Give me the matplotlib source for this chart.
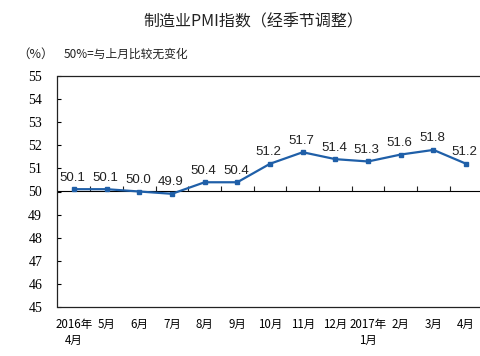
import matplotlib
matplotlib.use("Agg")
import matplotlib.pyplot as plt

months = ["2016年\n4月", "5月", "6月", "7月", "8月", "9月", "10月", "11月",
          "12月", "2017年\n1月", "2月", "3月", "4月"]
pmi = [50.1, 50.1, 50.0, 49.9, 50.4, 50.4, 51.2, 51.7, 51.4, 51.3, 51.6, 51.8, 51.2]
yticks = list(range(45, 56))

CJK = ["Noto Sans CJK SC", "DejaVu Sans"]
LINE = "#1f5fa8"

fig = plt.figure(figsize=(4.81, 3.56), dpi=100)
ax = fig.add_axes([57.5 / 481, 49 / 356, 425 / 481, 231 / 356])

x = list(range(len(months)))
ax.plot(x, pmi, color=LINE, linewidth=1.6, marker="s", markersize=3.2,
        zorder=3)
for xi, v in zip(x, pmi):
    ax.annotate(f"{v:.1f}", (xi, v), xytext=(-1, 4), textcoords="offset points",
                ha="center", va="bottom", fontsize=9.5,
                family="Liberation Sans", color="#222222")

ax.set_xlim(-0.5, len(months) - 0.5)
ax.set_ylim(45, 55)
ax.set_yticks(yticks)
ax.set_yticklabels([str(t) for t in yticks], family="Liberation Serif",
                   fontsize=10)
ax.tick_params(axis="y", direction="in", length=3, width=0.8, pad=11)
ax.set_xticks(x)
ax.set_xticklabels(months, family=CJK, fontsize=8.3, linespacing=1.25)
ax.tick_params(axis="x", length=0, pad=8)
for sp in ax.spines.values():
    sp.set_linewidth(0.9)
    sp.set_color("#222222")
ax.spines["right"].set_visible(False)

# axis line at 50 with ticks between months
mid = ax.secondary_xaxis(0.5)
mid.set_xticks([i + 0.5 for i in range(len(months) - 1)])
mid.set_xticklabels([])
mid.tick_params(direction="out", length=3.5, width=0.8, colors="#222222")
mid.spines["bottom"].set_linewidth(0.9)
mid.spines["bottom"].set_color("#222222")

fig.text(253 / 481, 1 - 22 / 356, "制造业PMI指数（经季节调整）", ha="center",
         va="center", fontsize=11.5, family=CJK, color="#222222")
fig.text(36 / 481, 1 - 54 / 356, "（%）", ha="center", va="center",
         fontsize=9, family=CJK, color="#222222")
fig.text(64 / 481, 1 - 54 / 356, "50%=与上月比较无变化", ha="left",
         va="center", fontsize=8.5, family=CJK, color="#222222")

fig.savefig("out.png", dpi=100, facecolor="white")
